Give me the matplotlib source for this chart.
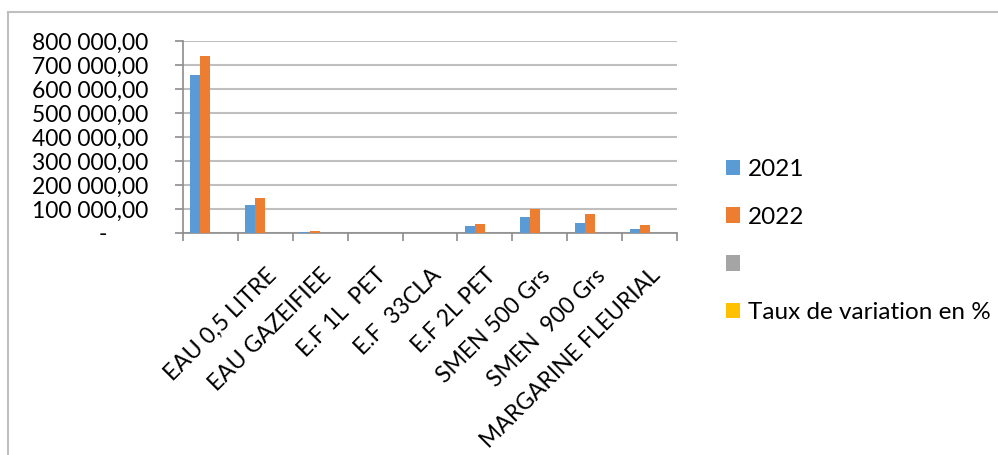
import matplotlib
matplotlib.use('Agg')
import matplotlib.pyplot as plt
import numpy as np
from matplotlib.patches import Patch
from matplotlib.lines import Line2D
from matplotlib.ticker import FixedLocator, FuncFormatter

categories = ["", "EAU 0,5 LITRE", "EAU GAZEIFIEE", "E.F 1L  PET", "E.F  33CLA",
              "E.F 2L PET", "SMEN 500 Grs", "SMEN  900 Grs", "MARGARINE FLEURIAL"]
v2021 = [659000, 115700, 2800, 1500, 1500, 29000, 65500, 41800, 16700]
v2022 = [739000, 146000, 8000, 1500, 1500, 37600, 101700, 78000, 32000]
vblank = [0, 0, 0, 0, 0, 0, 0, 0, 0]
taux = [12, 26, 1800, 0, 0, 30, 55, 1500, 92]
series_names = ["2021", "2022", "", "Taux de variation en %"]
series_values = [v2021, v2022, vblank, taux]
colors = ["#5B9BD5", "#ED7D31", "#A5A5A5", "#FFC000"]
yticks = [0, 100000, 200000, 300000, 400000, 500000, 600000, 700000, 800000]

FONT = "Lato"
plt.rcParams['font.family'] = [FONT, 'DejaVu Sans']

W, H = 998, 455
fig = plt.figure(figsize=(W / 100, H / 100), dpi=100)
ax = fig.add_axes([183 / W, 1 - 233 / H, (677 - 183) / W, (233 - 41) / H])

n = len(categories)
x = np.arange(n) + 0.5
bw = 0.182
for i, (vals, col, name) in enumerate(zip(series_values, colors, series_names)):
    ax.bar(x + (i - 1.5) * bw, vals, width=bw, color=col, label=name,
           edgecolor='none', zorder=3)

ax.set_xlim(0, n)
ax.set_ylim(0, 800000)

def fmt(v, pos):
    if v == 0:
        return "-       "
    return f"{v:,.2f}".replace(",", " ").replace(".", ",")

ax.yaxis.set_major_locator(FixedLocator(yticks))
ax.yaxis.set_major_formatter(FuncFormatter(fmt))
ax.yaxis.grid(True, color="#BFBFBF", lw=1.5, zorder=0)
ax.set_axisbelow(True)

ax.set_xticks(np.arange(n + 1))
ax.set_xticklabels([])
ax.set_xticks(x, minor=True)
ax.set_xticklabels(categories, minor=True, rotation=45, ha='right', va='top',
                   rotation_mode='anchor', fontsize=16.5)
ax.tick_params(axis='x', which='minor', length=0, pad=23)
ax.tick_params(axis='x', which='major', length=8 * 0.72, width=1.2, color="#8C8C8C")
ax.tick_params(axis='y', length=8 * 0.72, width=1.2, color="#8C8C8C", pad=19, labelsize=16.5)

for s in ['top', 'right']:
    ax.spines[s].set_visible(False)
for s in ['left', 'bottom']:
    ax.spines[s].set_color("#8C8C8C")
    ax.spines[s].set_linewidth(1.2)

handles = [Patch(facecolor=c, edgecolor='none') for c in colors]
leg = fig.legend(handles, series_names, loc='center left',
                 bbox_to_anchor=(716 / W, 1 - 241 / H), frameon=False,
                 fontsize=17.5, handlelength=0.6, handleheight=0.6,
                 handletextpad=0.3, labelspacing=1.1, borderaxespad=0)

# outer chart border
fig.add_artist(Line2D([8 / W, 1], [1 - 12 / H, 1 - 12 / H], color="#BFBFBF", lw=1.5,
                      transform=fig.transFigure))
fig.add_artist(Line2D([8 / W, 8 / W], [0, 1 - 12 / H], color="#BFBFBF", lw=1.5,
                      transform=fig.transFigure))

fig.savefig("out.png", dpi=100)
